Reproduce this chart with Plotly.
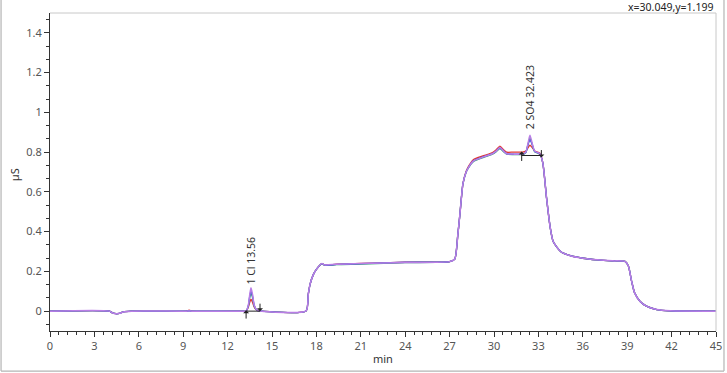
import plotly.graph_objects as go

# ---- data ----
time_min = [0, 4.0, 4.2, 4.46, 4.7, 4.95, 5.5, 9.2, 9.4, 9.6, 13.0, 13.25, 13.4, 13.5, 13.58,
            13.68, 13.8, 13.97, 14.2, 17.3, 17.45, 17.57, 17.8, 18.0, 18.36, 18.58, 19.37,
            21.0, 24.0, 27.0, 27.35, 27.55, 27.7, 27.9, 28.1, 28.25, 28.6, 29.3, 29.9, 30.15, 30.4,
            30.65, 30.85, 31.3, 31.9, 32.15, 32.3, 32.43, 32.56, 32.75, 33.1, 33.3, 33.55,
            33.8, 34.0, 34.5, 35.1, 36.0, 37.0, 38.0, 38.85, 39.08, 39.3, 39.5, 39.86, 40.3,
            41.0, 41.9, 45.0]

red_uS = [0, 0, -0.008, -0.013, -0.011, -0.004, 0, 0, 0.005, 0, 0, 0, 0.02, 0.045, 0.06,
          0.045, 0.02, 0.005, 0.001, 0.001, 0.084, 0.135, 0.185, 0.21, 0.239, 0.232, 0.236,
          0.240, 0.246, 0.249, 0.262, 0.38, 0.49, 0.64, 0.70, 0.725, 0.762, 0.782, 0.798, 0.812, 0.830,
          0.812, 0.800, 0.800, 0.800, 0.805, 0.822, 0.835, 0.825, 0.806, 0.795, 0.745, 0.57,
          0.42, 0.35, 0.30, 0.28, 0.266, 0.258, 0.253, 0.25, 0.227, 0.15, 0.092, 0.05, 0.025,
          0.008, 0.002, 0]

green_uS = [0, 0, -0.008, -0.013, -0.011, -0.004, 0, 0, 0.001, 0, 0, 0, 0.025, 0.07, 0.09,
            0.07, 0.025, 0.006, 0.001, 0.001, 0.084, 0.135, 0.185, 0.21, 0.238, 0.230, 0.234,
            0.237, 0.244, 0.249, 0.262, 0.38, 0.49, 0.64, 0.695, 0.718, 0.752, 0.774, 0.790, 0.802, 0.818,
            0.802, 0.790, 0.788, 0.788, 0.798, 0.840, 0.870, 0.845, 0.802, 0.790, 0.745, 0.57,
            0.42, 0.35, 0.30, 0.28, 0.266, 0.258, 0.253, 0.25, 0.227, 0.15, 0.092, 0.05, 0.025,
            0.008, 0.002, 0]

blue_uS = [0, 0, -0.008, -0.013, -0.011, -0.004, 0, 0, 0.001, 0, 0, 0, 0.028, 0.078, 0.10,
           0.078, 0.028, 0.006, 0.001, 0.001, 0.084, 0.135, 0.185, 0.21, 0.239, 0.231, 0.235,
           0.239, 0.246, 0.249, 0.262, 0.38, 0.49, 0.64, 0.697, 0.72, 0.756, 0.777, 0.793, 0.806, 0.822,
           0.806, 0.792, 0.790, 0.790, 0.799, 0.838, 0.862, 0.842, 0.803, 0.791, 0.745, 0.57,
           0.42, 0.35, 0.30, 0.28, 0.266, 0.258, 0.253, 0.25, 0.227, 0.15, 0.092, 0.05, 0.025,
           0.008, 0.002, 0]

purple_uS = [0, 0, -0.008, -0.013, -0.011, -0.004, 0, 0, 0.001, 0, 0, 0, 0.03, 0.085, 0.118,
             0.085, 0.03, 0.006, 0.001, 0.001, 0.084, 0.135, 0.185, 0.21, 0.239, 0.232, 0.236,
             0.239, 0.245, 0.249, 0.262, 0.38, 0.49, 0.64, 0.696, 0.72, 0.755, 0.776, 0.792, 0.805, 0.823,
             0.805, 0.792, 0.790, 0.790, 0.800, 0.845, 0.885, 0.850, 0.805, 0.792, 0.745, 0.57,
             0.42, 0.35, 0.30, 0.28, 0.266, 0.258, 0.253, 0.25, 0.227, 0.15, 0.092, 0.05, 0.025,
             0.008, 0.002, 0]

peak_labels = ["1 Cl 13.56", "2 SO4 32.423"]
peak_label_x = [13.60, 32.43]
peak_label_y = [0.125, 0.905]

# integration baselines (start/end times and levels)
cl_base_x = [13.25, 14.19]
cl_base_y = [0.0, 0.0]
so4_base_x = [31.87, 33.2]
so4_base_y = [0.783, 0.783]

cursor_text = "x=30.049,y=1.199"
x_title = "min"
y_title = "µS"

x_ticks = list(range(0, 46, 3))
y_ticks = [0, 0.2, 0.4, 0.6, 0.8, 1, 1.2, 1.4]
y_tick_text = ["0", "0.2", "0.4", "0.6", "0.8", "1", "1.2", "1.4"]

# ---- figure ----
FONT = "Noto Sans"
fig = go.Figure()

series = [
    ("red", red_uS, "rgb(225,55,55)", 1.3),
    ("green", green_uS, "rgb(40,160,110)", 1.3),
    ("blue", blue_uS, "rgb(60,90,220)", 1.3),
    ("purple", purple_uS, "rgb(185,125,230)", 1.5),
]
for name, ys, col, w in series:
    fig.add_trace(go.Scatter(x=time_min, y=ys, mode="lines", name=name,
                             line=dict(color=col, width=w, shape="spline", smoothing=0.6),
                             hoverinfo="skip"))

# baselines of integration
for bx, by in [(cl_base_x, cl_base_y), (so4_base_x, so4_base_y)]:
    fig.add_trace(go.Scatter(x=bx, y=by, mode="lines", line=dict(color="#222", width=1),
                             hoverinfo="skip"))

# small start / end ticks of the integration baselines
fig.add_annotation(x=cl_base_x[0], y=cl_base_y[0] + 0.005, ax=cl_base_x[0], ay=cl_base_y[0] - 0.045,
                   xref="x", yref="y", axref="x", ayref="y", showarrow=True, arrowhead=1,
                   arrowsize=1, arrowwidth=1, arrowcolor="#222", text="")
fig.add_annotation(x=cl_base_x[1], y=cl_base_y[1], ax=cl_base_x[1], ay=cl_base_y[1] + 0.045,
                   xref="x", yref="y", axref="x", ayref="y", showarrow=True, arrowhead=1,
                   arrowsize=1, arrowwidth=1, arrowcolor="#222", text="")
fig.add_annotation(x=so4_base_x[0], y=so4_base_y[0] + 0.02, ax=so4_base_x[0], ay=so4_base_y[0] - 0.035,
                   xref="x", yref="y", axref="x", ayref="y", showarrow=True, arrowhead=1,
                   arrowsize=1, arrowwidth=1, arrowcolor="#222", text="")
fig.add_annotation(x=so4_base_x[1], y=so4_base_y[1] - 0.01, ax=so4_base_x[1], ay=so4_base_y[1] + 0.035,
                   xref="x", yref="y", axref="x", ayref="y", showarrow=True, arrowhead=1,
                   arrowsize=1, arrowwidth=1, arrowcolor="#222", text="")

for lab, lx, ly in zip(peak_labels, peak_label_x, peak_label_y):
    fig.add_annotation(x=lx, y=ly, text=lab, textangle=-90, showarrow=False,
                       xanchor="center", yanchor="bottom",
                       font=dict(family=FONT, size=10.5, color="#333"))

fig.add_annotation(x=0.9985, y=1.019, xref="paper", yref="paper", text=cursor_text,
                   showarrow=False, xanchor="right", yanchor="middle",
                   font=dict(family=FONT, size=10.5, color="#222"))

# axis titles
fig.add_annotation(x=0.5, y=-0.085, xref="paper", yref="paper", text=x_title, showarrow=False,
                   xanchor="center", yanchor="middle", font=dict(family=FONT, size=11, color="#333"))
fig.add_annotation(x=-0.054, y=0.49, xref="paper", yref="paper", text=y_title, showarrow=False,
                   textangle=-90, xanchor="center", yanchor="middle",
                   font=dict(family=FONT, size=11, color="#333"))

# light plot frame (top, right) and outer border (left, right, bottom)
fig.add_shape(type="line", xref="paper", yref="paper", x0=0, x1=1.0, y0=1, y1=1,
              line=dict(color="#c8c8c8", width=1))
fig.add_shape(type="line", xref="paper", yref="paper", x0=1.0, x1=1.0, y0=0, y1=1,
              line=dict(color="#c8c8c8", width=1))
fig.add_shape(type="line", xref="paper", yref="paper", x0=1.012, x1=1.012, y0=-0.126, y1=1.045,
              line=dict(color="#b4b4b4", width=1.2))
fig.add_shape(type="line", xref="paper", yref="paper", x0=-0.0735, x1=-0.0735, y0=-0.126, y1=1.045,
              line=dict(color="#b4b4b4", width=1.2))
fig.add_shape(type="line", xref="paper", yref="paper", x0=-0.0735, x1=1.012, y0=-0.126, y1=-0.126,
              line=dict(color="#b4b4b4", width=1.2))

fig.update_layout(
    width=727, height=373,
    margin=dict(l=50, r=11, t=13, b=42, autoexpand=False),
    plot_bgcolor="white", paper_bgcolor="white",
    showlegend=False,
    font=dict(family=FONT, size=11, color="#555"),
    xaxis=dict(range=[0, 45], tickvals=x_ticks, ticktext=[str(v) for v in x_ticks],
               automargin=False,
               showgrid=False, zeroline=False, showline=True, linecolor="#333", linewidth=1,
               ticks="outside", ticklen=5, tickcolor="#333",
               minor=dict(dtick=0.6, tick0=0, ticks="outside", ticklen=3, tickcolor="#333"),
               tickfont=dict(family=FONT, size=11, color="#555")),
    yaxis=dict(range=[-0.1, 1.5], tickvals=y_ticks, ticktext=y_tick_text,
               automargin=False,
               showgrid=False, zeroline=False, showline=True, linecolor="#333", linewidth=1,
               ticks="outside", ticklen=5, tickcolor="#333",
               minor=dict(dtick=0.2 / 3, tick0=0, ticks="outside", ticklen=3, tickcolor="#333"),
               tickfont=dict(family=FONT, size=11, color="#555")),
)

# remove the browser's default 8px page margin so the figure sits at the window's corner
fig.write_html("out.html", config={"displayModeBar": False},
               post_script="document.body.style.margin='0';")
